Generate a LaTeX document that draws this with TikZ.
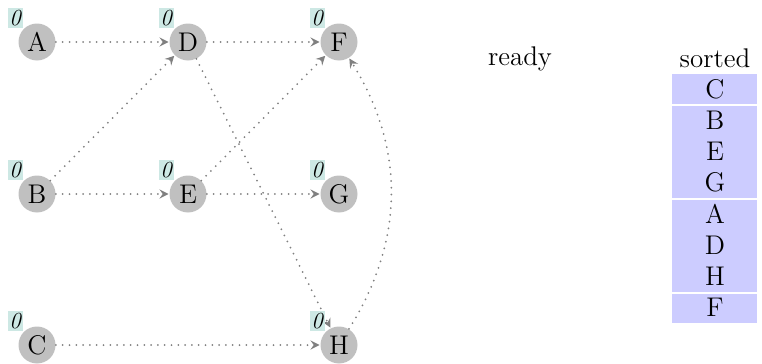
\documentclass[tikz,border=0pt]{standalone}
\usetikzlibrary{arrows.meta}
\definecolor{nodegray}{RGB}{192,192,192}
\definecolor{edgegray}{RGB}{128,128,128}
\definecolor{labteal}{RGB}{205,232,228}
\definecolor{lav}{RGB}{204,204,255}
\begin{document}
\begin{tikzpicture}[x=0.5pt,y=-0.5pt,
  vert/.style={circle,fill=nodegray,minimum size=18.5pt,inner sep=0pt,font=\fontsize{13.5}{15}\selectfont},
  edge/.style={draw=edgegray,line width=1pt,line cap=round,dash pattern=on 0pt off 3.4pt,
    -{Stealth[length=4.5pt,width=4.6pt,inset=1.6pt]},shorten >=0.3pt},
  lab/.style={fill=labteal,inner sep=0pt,minimum width=7.5pt,minimum height=10pt,font=\itshape\fontsize{11.5}{13}\selectfont},
  txt/.style={inner sep=0pt,font=\fontsize{13.5}{15}\selectfont}]
\useasboundingbox (0,0) rectangle (762,364);
% vertices
\node[vert] (A) at (37,42) {A};
\node[vert] (D) at (188,42) {D};
\node[vert] (F) at (339,42) {F};
\node[vert] (B) at (37,194) {B};
\node[vert] (E) at (188,194) {E};
\node[vert] (G) at (339,194) {G};
\node[vert] (C) at (37,345) {C};
\node[vert] (H) at (339,345) {H};
% edges
\draw[edge] (A) -- (D);
\draw[edge] (D) -- (F);
\draw[edge] (B) -- (D);
\draw[edge] (B) -- (E);
\draw[edge] (E) -- (F);
\draw[edge] (E) -- (G);
\draw[edge] (D) -- (H);
\draw[edge] (C) -- (H);
\draw[edge] (H) to[bend right=32] (F);
% counters
\foreach \v in {A,B,C,D,E,F,G,H}{
  \node[lab] (l\v) at ([shift={(-22,-24)}]\v.center) {0};
}
% ready
\node[txt,anchor=base] (ready) at (520,65) {ready};
% sorted list
\node[txt,anchor=base] (sorted) at (715,68) {sorted};
\fill[lav] (672,74) rectangle (757,323);
\draw[white,line width=1pt] (672,104.5) -- (757,104.5);
\draw[white,line width=1pt] (672,198.5) -- (757,198.5);
\draw[white,line width=1pt] (672,292.5) -- (757,292.5);
\node[txt] (s1) at (715,89.5) {C};
\node[txt] (s2) at (715,120.5) {B};
\node[txt] (s3) at (715,151.5) {E};
\node[txt] (s4) at (715,182.5) {G};
\node[txt] (s5) at (715,214) {A};
\node[txt] (s6) at (715,245) {D};
\node[txt] (s7) at (715,276) {H};
\node[txt] (s8) at (715,307.5) {F};
\end{tikzpicture}
\end{document}
